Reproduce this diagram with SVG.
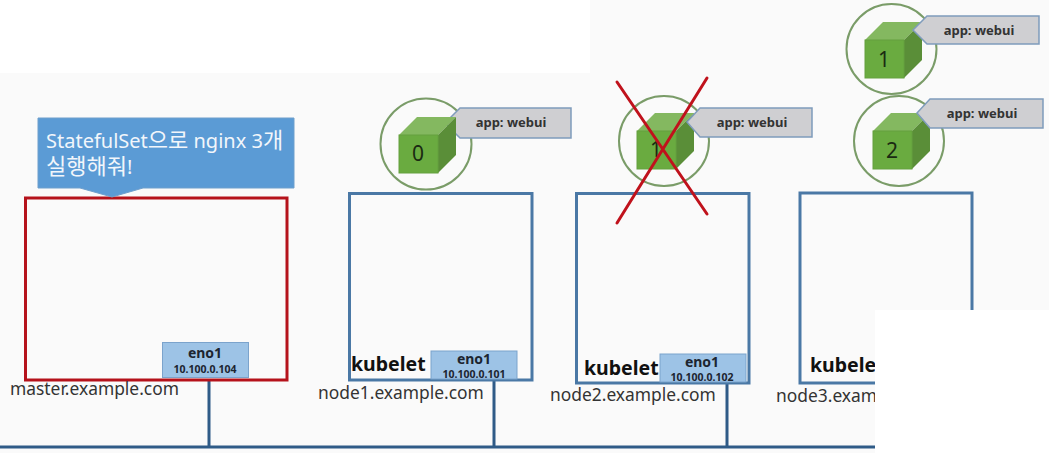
<svg xmlns="http://www.w3.org/2000/svg" width="1049" height="460" viewBox="0 0 1049 460">
<style>
text{font-family:"Noto Sans","Noto Sans CJK KR","Liberation Sans",sans-serif}
.bg{fill:#fafafa}
.mask{fill:#fff}
.box{fill:none;stroke:#4a78a5;stroke-width:3}
.master{fill:none;stroke:#b5121b;stroke-width:3}
.eno{fill:#9dc3e6;stroke:#7ba3cc;stroke-width:1}
.enot{font-size:14px;font-weight:700;fill:#1c2530;text-anchor:middle}
.ip{font-size:10.5px;font-weight:700;fill:#1c2530;text-anchor:middle}
.kube{font-size:19.500px;font-weight:700;fill:#111}
.host{font-size:17.400px;fill:#333}
.ring{fill:none;stroke:#7a9c68;stroke-width:2}
.front{fill:#6aab40;stroke:#65a03e;stroke-width:1}
.top{fill:#84b860}
.side{fill:#5a8e38}
.num{font-size:21px;fill:#1a2a12;text-anchor:middle}
.tag{fill:#cfcfd2;stroke:#7f9cbc;stroke-width:1.5}
.tagt{font-size:13px;font-weight:700;fill:#333;text-anchor:middle}
.link{fill:none;stroke:#2f5b87;stroke-width:3}
.cross{fill:none;stroke:#c0121c;stroke-width:3;stroke-linecap:round}
.say{font-size:20px;fill:#f2f6fb}
.ko{font-size:22px}
</style>
<defs>
<g id="cube">
<polygon class="top" points="0,0 18,-18 57,-18 39,0"/>
<polygon class="side" points="39,0 57,-18 57,20 39,38"/>
<rect class="front" width="39" height="38"/>
</g>
</defs>
<rect width="1049" height="460" fill="#fff"/>
<rect id="background-left" class="bg" x="0" y="73" width="590" height="380"/>
<rect id="background-right" class="bg" x="590" y="0" width="459" height="453"/>

<g id="connectors">
<path class="link" d="M0 447H875M209 380V447M494 380V447M727 383V447"/>
</g>

<g id="master">
<rect class="master" x="25.500" y="198" width="261.500" height="182"/>
<rect class="eno" x="162.500" y="342.500" width="86" height="35"/>
<text class="enot" x="205" y="358">eno1</text>
<text class="ip" x="205" y="373">10.100.0.104</text>
<text class="host" x="10" y="395">master.example.com</text>
</g>

<g id="callout">
<path d="M38 118H294V188H143L112 197L80 188H38Z" fill="#5b9bd5" stroke="#6f9fcc" stroke-width="1"/>
<text class="say" x="46" y="148">StatefulSet<tspan class="ko">으로</tspan> nginx 3<tspan class="ko">개</tspan></text>
<text class="say" x="46" y="174"><tspan class="ko">실행해줘</tspan>!</text>
</g>

<g id="node1">
<rect class="box" x="349.500" y="193.500" width="182.500" height="186.500"/>
<rect class="eno" x="431" y="351" width="86" height="28"/>
<text class="enot" x="474" y="364">eno1</text>
<text class="ip" x="474" y="378">10.100.0.101</text>
<text class="kube" x="351" y="371">kubelet</text>
<text class="host" x="318" y="399">node1.example.com</text>
</g>

<g id="node2">
<rect class="box" x="576.500" y="193.500" width="172.500" height="189.500"/>
<rect class="eno" x="660" y="354" width="86" height="28"/>
<text class="enot" x="702" y="367">eno1</text>
<text class="ip" x="702" y="381">10.100.0.102</text>
<text class="kube" x="584" y="375">kubelet</text>
<text class="host" x="550" y="401">node2.example.com</text>
</g>

<g id="node3">
<rect class="box" x="800" y="193" width="172" height="190"/>
<text class="kube" x="810" y="372">kubele</text>
<text class="host" x="776" y="402">node3.exam</text>
</g>

<g id="pod0">
<circle class="ring" cx="426" cy="144" r="45.500"/>
<polygon class="tag" points="460,108 571,108 571,138 460,138 445,123"/>
<use href="#cube" x="399" y="135"/>
<text class="num" x="418" y="161">0</text>
<text class="tagt" x="511" y="127">app: webui</text>
</g>

<g id="pod1-deleted">
<circle class="ring" cx="664" cy="141" r="45"/>
<use href="#cube" x="637" y="131"/>
<text class="num" x="656" y="157">1</text>
<polygon class="tag" points="700,108 812,108 812,137 700,137 687,122"/>
<text class="tagt" x="752" y="127">app: webui</text>
</g>

<g id="pod1">
<circle class="ring" cx="891.500" cy="49" r="45"/>
<use href="#cube" x="865" y="40"/>
<text class="num" x="884" y="67">1</text>
<polygon class="tag" points="927,16 1039,16 1039,44 927,44 913,30"/>
<text class="tagt" x="979" y="35">app: webui</text>
</g>

<g id="pod2">
<circle class="ring" cx="899" cy="141" r="45"/>
<use href="#cube" x="873" y="131"/>
<text class="num" x="892" y="158">2</text>
<polygon class="tag" points="930,99 1043,99 1043,128 930,128 917,113"/>
<text class="tagt" x="982" y="118">app: webui</text>
</g>

<g id="cross">
<path class="cross" d="M617 82L707 214M707 78L617 223"/>
</g>

<rect id="mask-bottom-right" class="mask" x="875" y="310" width="174" height="150"/>
</svg>
